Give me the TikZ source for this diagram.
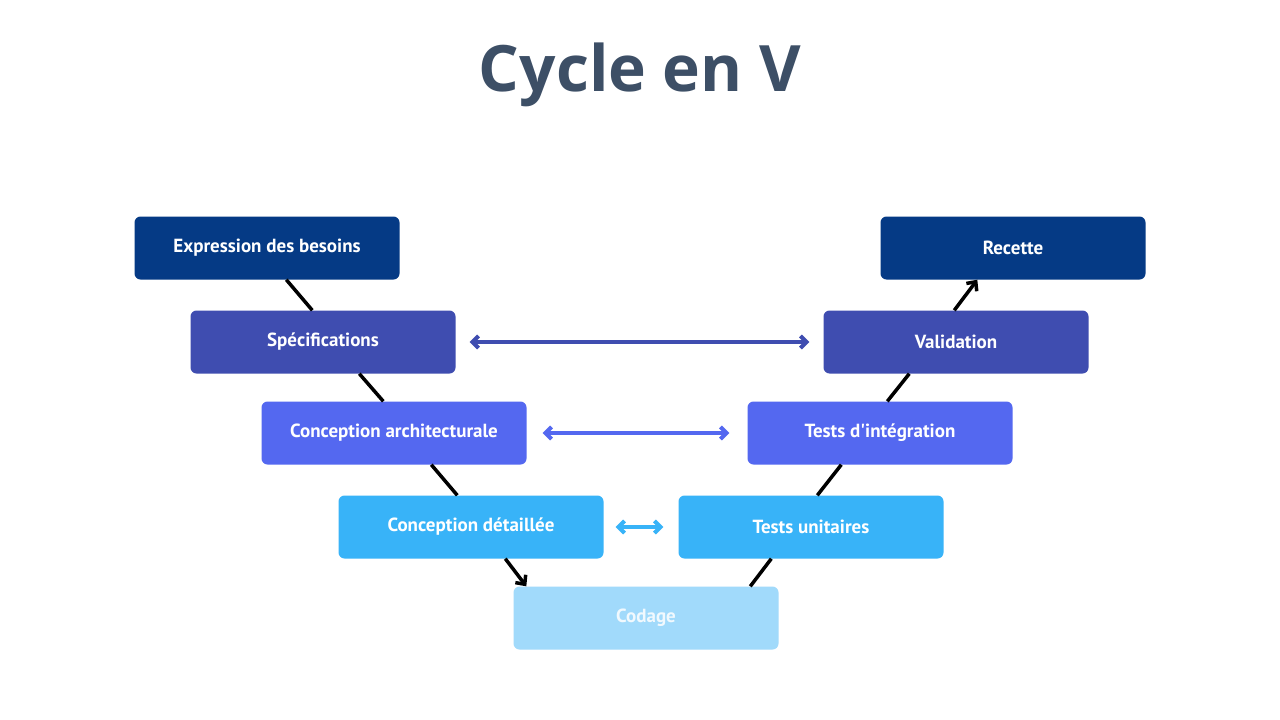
\documentclass[tikz,border=0pt]{standalone}
\usepackage{fontspec}
\setmainfont{Open Sans}
\newfontfamily\boxfont{PT Sans}
\usetikzlibrary{calc,arrows.meta}
\definecolor{titlegray}{HTML}{3D4F66}
\definecolor{stepA}{HTML}{053A85}
\definecolor{stepB}{HTML}{3F4DB0}
\definecolor{stepC}{HTML}{5468F0}
\definecolor{stepD}{HTML}{38B3F8}
\definecolor{stepE}{HTML}{A1DAFB}
\tikzset{x=1pt, y=-1pt,
  phase/.style={rounded corners=6pt, minimum width=265pt, minimum height=63pt,
    text=white, font=\boxfont\bfseries\fontsize{19}{22}\selectfont, inner sep=0pt},
  flow/.style={draw=black, line width=3.5pt},
  link/.style={line width=4pt, {Straight Barb[length=6pt,width=12pt]}-{Straight Barb[length=6pt,width=12pt]}}
}
\begin{document}
\begin{tikzpicture}
\useasboundingbox[fill=white] (0,0) rectangle (1280,720);
\node[font=\bfseries\fontsize{64}{70}\selectfont, text=titlegray] (title) at (640,75) {Cycle en V};
% left branch
\node[phase, fill=stepA] (besoins) at (267,248) {Expression des besoins};
\node[phase, fill=stepB] (specs) at (323,342) {Spécifications};
\node[phase, fill=stepC] (archi) at (394,433) {Conception architecturale};
\node[phase, fill=stepD] (detail) at (471,527) {Conception détaillée};
% bottom
\node[phase, fill=stepE, text=white!85!stepE] (codage) at (646,618) {Codage};
% right branch
\node[phase, fill=stepD] (unit) at (811,527) {Tests unitaires};
\node[phase, fill=stepC] (integ) at (880,433) {Tests d'intégration};
\node[phase, fill=stepB] (valid) at (956,342) {Validation};
\node[phase, fill=stepA] (recette) at (1013,248) {Recette};
% V connectors
\draw[flow] ([xshift=152pt]besoins.south west) -- ([xshift=122pt]specs.north west);
\draw[flow] ([xshift=169pt]specs.south west) -- ([xshift=122pt]archi.north west);
\draw[flow] ([xshift=170pt]archi.south west) -- ([xshift=119pt]detail.north west);
\draw[flow, -{Straight Barb[length=7pt,width=13pt]}] ([xshift=167pt]detail.south west) -- ([xshift=13pt]codage.north west);
\draw[flow] ([xshift=237pt]codage.north west) -- ([xshift=93pt]unit.south west);
\draw[flow] ([xshift=139pt]unit.north west) -- ([xshift=94pt]integ.south west);
\draw[flow] ([xshift=140pt]integ.north west) -- ([xshift=86pt]valid.south west);
\draw[flow, -{Straight Barb[length=7pt,width=13pt]}] ([xshift=131pt]valid.north west) -- ([xshift=97pt]recette.south west);
% verification links
\draw[link, stepB] ([xshift=14pt]specs.east) -- ([xshift=-14pt]valid.west);
\draw[link, stepC] ([xshift=16pt]archi.east) -- ([xshift=-18pt]integ.west);
\draw[link, stepD] ([xshift=12pt]detail.east) -- ([xshift=-15pt]unit.west);
\end{tikzpicture}
\end{document}
